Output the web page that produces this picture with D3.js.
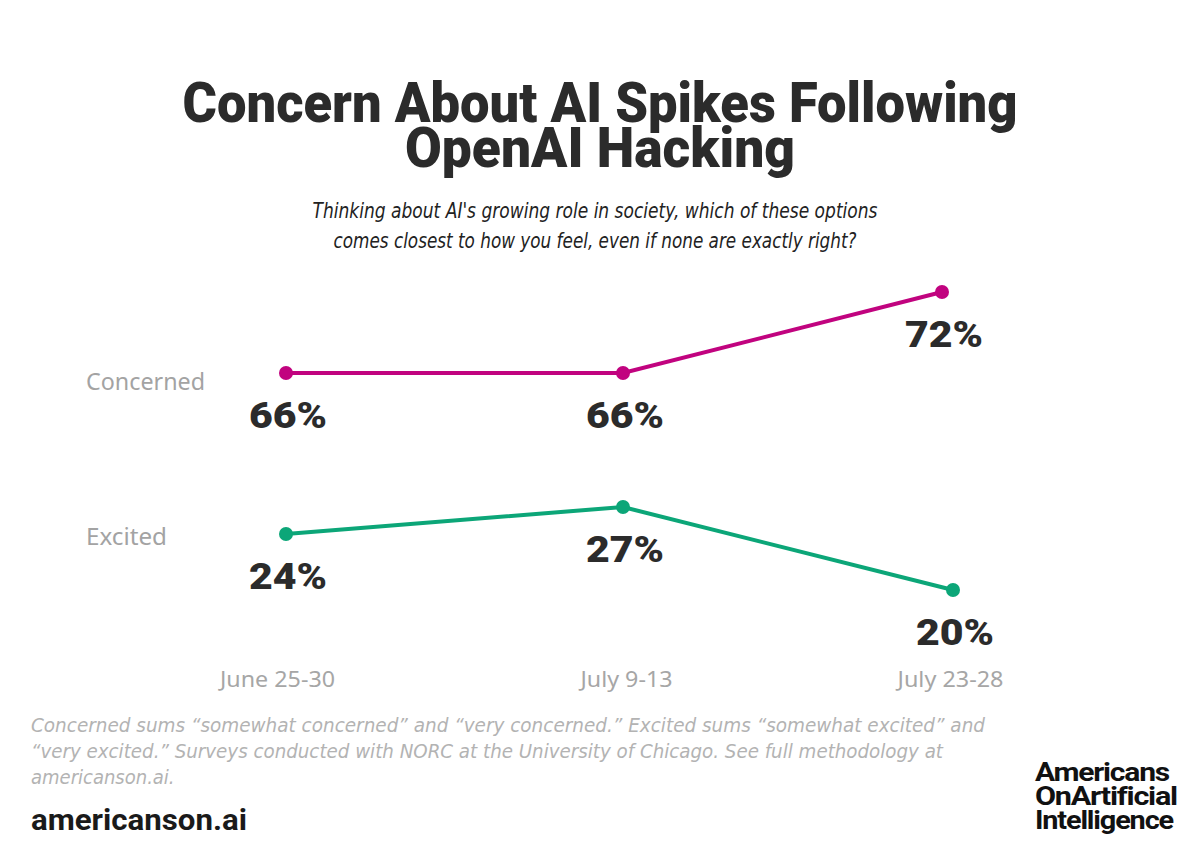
<!DOCTYPE html>
<html>
<head>
<meta charset="utf-8">
<script src="https://cdn.jsdelivr.net/npm/d3@7"></script>
<style>
  body { margin: 0; background: #fff; }
  svg { display: block; }
</style>
</head>
<body>
<div id="chart"></div>
<script>
const width = 1200;
const height = 857;

// data
const waves = ["June 25-30", "July 9-13", "July 23-28"];
const seriesNames = ["Concerned", "Excited"];
const concerned = [66, 66, 72];
const excited = [24, 27, 20];
const seriesColors = ["#c1037f", "#0ca678"];

const titleLines = ["Concern About AI Spikes Following", "OpenAI Hacking"];
const subtitleLines = [
    "Thinking about AI's growing role in society, which of these options",
    "comes closest to how you feel, even if none are exactly right?"
];
const noteLines = [
    "Concerned sums \u201csomewhat concerned\u201d and \u201cvery concerned.\u201d Excited sums \u201csomewhat excited\u201d and",
    "\u201cvery excited.\u201d Surveys conducted with NORC at the University of Chicago. See full methodology at",
    "americanson.ai."
];
const logoLines = ["Americans", "OnArtificial", "Intelligence"];

const svg = d3.select("#chart")
    .append("svg")
    .attr("width", width)
    .attr("height", height);

const condensed = "'Liberation Sans Narrow', 'DejaVu Sans Condensed', 'Roboto', sans-serif";
const heavy = "'Roboto', 'Liberation Sans', sans-serif";

// title
svg.append("g").selectAll("text")
    .data(titleLines)
    .enter()
    .append("text")
    .attr("x", width / 2)
    .attr("y", (d, i) => 122 + i * 45)
    .attr("text-anchor", "middle")
    .attr("textLength", (d, i) => i === 0 ? 835 : 390)
    .attr("lengthAdjust", "spacingAndGlyphs")
    .style("font-family", heavy)
    .style("font-weight", 900)
    .style("font-size", "55px")
    .style("fill", "#2b2b2b")
    .text(d => d);

// subtitle
svg.append("g").selectAll("text")
    .data(subtitleLines)
    .enter()
    .append("text")
    .attr("x", width / 2 - 5)
    .attr("y", (d, i) => 218 + i * 30)
    .attr("text-anchor", "middle")
    .attr("textLength", (d, i) => i === 0 ? 565 : 523)
    .attr("lengthAdjust", "spacingAndGlyphs")
    .style("font-family", condensed)
    .style("font-style", "italic")
    .style("font-size", "21px")
    .style("fill", "#222")
    .text(d => d);

// scales: the original spaces the waves unevenly and the lines end a little apart
const xAxisScale = d3.scaleOrdinal().domain(waves).range([277, 626, 950]);
const xScales = [
    d3.scaleOrdinal().domain(waves).range([286, 623, 942]),
    d3.scaleOrdinal().domain(waves).range([286, 623, 953])
];
// piecewise scale: the original is not drawn on one linear axis
const y = d3.scaleLinear()
    .domain([20, 24, 27, 66, 72])
    .range([590, 534, 507, 373, 292]);

const seriesData = [concerned, excited];
const nameOffsets = [17, 11];
const nameLengths = [119, 81];

const line = (xs) => d3.line()
    .x((d, i) => xs(waves[i]))
    .y(d => y(d));

seriesData.forEach((vals, s) => {
    const xs = xScales[s];
    const g = svg.append("g");

    g.append("path")
        .datum(vals)
        .attr("d", line(xs))
        .attr("fill", "none")
        .attr("stroke", seriesColors[s])
        .attr("stroke-width", 4);

    g.selectAll("circle")
        .data(vals)
        .enter()
        .append("circle")
        .attr("cx", (d, i) => xs(waves[i]))
        .attr("cy", d => y(d))
        .attr("r", 7)
        .attr("fill", seriesColors[s]);

    g.selectAll("text.val")
        .data(vals)
        .enter()
        .append("text")
        .attr("class", "val")
        .attr("x", (d, i) => xs(waves[i]) + 2)
        .attr("y", d => y(d) + 55)
        .attr("text-anchor", "middle")
        .attr("textLength", 78)
        .attr("lengthAdjust", "spacingAndGlyphs")
        .style("font-family", heavy)
        .style("font-weight", 900)
        .style("font-size", "36px")
        .style("fill", "#2b2b2b")
        .text(d => d + "%");

    g.append("text")
        .attr("x", 86)
        .attr("y", y(vals[0]) + nameOffsets[s])
        .attr("textLength", nameLengths[s])
        .attr("lengthAdjust", "spacingAndGlyphs")
        .style("font-family", "'Noto Sans', sans-serif")
        .style("font-size", "23px")
        .style("fill", "#a3a3a3")
        .text(seriesNames[s]);
});

// x axis labels
const tickLengths = [115, 92, 106];
const xAxis = svg.append("g")
    .attr("transform", "translate(0,671)")
    .call(d3.axisBottom(xAxisScale).tickSize(0).tickPadding(0));
xAxis.select(".domain").remove();
xAxis.selectAll("text")
    .attr("dy", "0.71em")
    .attr("textLength", (d, i) => tickLengths[i])
    .attr("lengthAdjust", "spacingAndGlyphs")
    .style("font-family", "'Noto Sans', 'Liberation Sans', sans-serif")
    .style("font-size", "22px")
    .style("fill", "#a6a6a6");

// footnote
svg.append("g").selectAll("text")
    .data(noteLines)
    .enter()
    .append("text")
    .attr("x", 31)
    .attr("y", (d, i) => 732 + i * 26)
    .attr("textLength", (d, i) => [954, 912, 0][i] || null)
    .attr("lengthAdjust", "spacingAndGlyphs")
    .style("font-family", condensed)
    .style("font-style", "italic")
    .style("font-size", "20px")
    .style("fill", "#b3b3b3")
    .text(d => d);

svg.append("text")
    .attr("x", 31)
    .attr("y", 830)
    .attr("textLength", 216)
    .attr("lengthAdjust", "spacingAndGlyphs")
    .style("font-family", heavy)
    .style("font-weight", 700)
    .style("font-size", "29px")
    .style("fill", "#1a1a1a")
    .text("americanson.ai");

// logo
svg.append("g").selectAll("text")
    .data(logoLines)
    .enter()
    .append("text")
    .attr("x", 1035)
    .attr("y", (d, i) => 781 + i * 24)
    .attr("textLength", (d, i) => [134, 142, 138][i])
    .attr("lengthAdjust", "spacingAndGlyphs")
    .style("font-family", heavy)
    .style("font-weight", 700)
    .style("font-size", "25px")
    .style("letter-spacing", "-1px")
    .style("fill", "#111")
    .text(d => d);
</script>
</body>
</html>
